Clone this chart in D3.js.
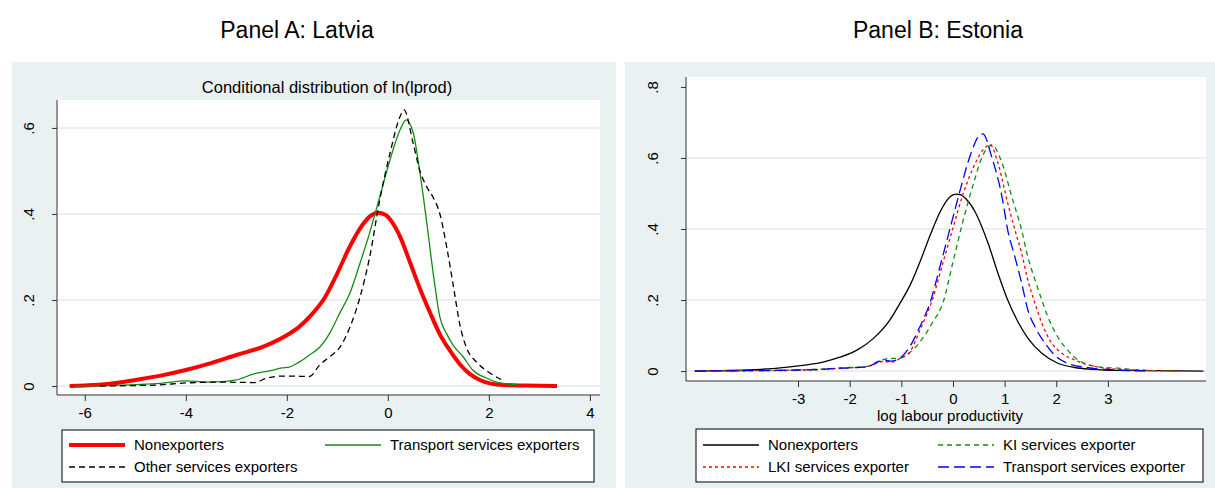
<!DOCTYPE html>
<html>
<head>
<meta charset="utf-8">
<script src="https://cdn.jsdelivr.net/npm/d3@7"></script>
<style>
  body { margin: 0; background: #fff; }
  text { font-family: "Liberation Sans", Arial, sans-serif; fill: #000; }
</style>
</head>
<body>
<div class="chart"></div>
<script>
const width = 1215;
const height = 488;

// Panel A: Latvia
const latNonX = [-6.3, -6, -5.5, -5, -4.5, -4, -3.5, -3, -2.5, -2, -1.75, -1.5, -1.25, -1, -0.75, -0.5, -0.35, -0.2, -0.05, 0.1, 0.25, 0.44, 0.63, 0.83, 1.03, 1.23, 1.43, 1.62, 1.82, 2.02, 2.3, 2.7, 3.35];
const latNonY = [0, 0.001, 0.005, 0.014, 0.024, 0.037, 0.053, 0.072, 0.09, 0.118, 0.138, 0.167, 0.205, 0.262, 0.325, 0.375, 0.395, 0.403, 0.398, 0.378, 0.345, 0.287, 0.228, 0.172, 0.12, 0.082, 0.05, 0.028, 0.014, 0.006, 0.002, 0.001, 0];
const latTrX = [-6.2, -5.5, -5, -4.5, -4, -3.6, -3.3, -3, -2.65, -2.3, -2.1, -1.95, -1.75, -1.55, -1.35, -1.15, -0.95, -0.75, -0.55, -0.36, -0.16, 0.04, 0.24, 0.36, 0.5, 0.63, 0.77, 0.9, 1.03, 1.17, 1.29, 1.49, 1.68, 1.96, 2.22, 2.58];
const latTrY = [0, 0.001, 0.003, 0.006, 0.012, 0.009, 0.01, 0.014, 0.028, 0.036, 0.042, 0.044, 0.056, 0.072, 0.09, 0.123, 0.17, 0.216, 0.286, 0.356, 0.44, 0.525, 0.595, 0.619, 0.59, 0.5, 0.38, 0.26, 0.16, 0.12, 0.095, 0.068, 0.037, 0.018, 0.007, 0.003];
const latOthX = [-5.7, -5, -4.6, -4, -3.3, -2.65, -2.4, -2.1, -1.9, -1.55, -1.35, -1.15, -0.95, -0.75, -0.55, -0.36, -0.16, 0.04, 0.24, 0.32, 0.5, 0.63, 0.77, 0.89, 1.03, 1.17, 1.3, 1.43, 1.56, 1.76, 2.02, 2.26];
const latOthY = [0, 0.001, 0.002, 0.007, 0.009, 0.008, 0.018, 0.023, 0.023, 0.022, 0.049, 0.068, 0.09, 0.137, 0.207, 0.3, 0.433, 0.54, 0.626, 0.642, 0.565, 0.502, 0.463, 0.44, 0.4, 0.32, 0.23, 0.14, 0.088, 0.055, 0.03, 0.014];
const latXTicks = [-6, -4, -2, 0, 2, 4];
const latYTicks = [0, 0.2, 0.4, 0.6];
const latYLabels = ["0", ".2", ".4", ".6"];

// Panel B: Estonia
const estNonX = [-5, -4.5, -4, -3.5, -3.15, -2.8, -2.5, -2.19, -1.86, -1.54, -1.22, -1.03, -0.83, -0.64, -0.44, -0.25, -0.06, 0.05, 0.14, 0.25, 0.43, 0.68, 0.87, 1.06, 1.26, 1.45, 1.72, 2.03, 2.36, 2.7, 3.2, 4, 4.85];
const estNonY = [0, 0.001, 0.003, 0.007, 0.012, 0.018, 0.026, 0.039, 0.059, 0.092, 0.144, 0.19, 0.242, 0.307, 0.383, 0.448, 0.49, 0.498, 0.497, 0.485, 0.448, 0.36, 0.276, 0.2, 0.138, 0.093, 0.05, 0.022, 0.01, 0.005, 0.002, 0.001, 0];
const estKiX = [-5, -4, -3, -2.5, -2, -1.67, -1.4, -1.25, -1.03, -0.9, -0.64, -0.39, -0.19, 0, 0.19, 0.39, 0.58, 0.75, 0.95, 1.14, 1.33, 1.45, 1.59, 1.72, 1.84, 2.03, 2.22, 2.42, 2.55, 2.9, 3.2, 3.6, 4.3];
const estKiY = [0, 0.001, 0.003, 0.006, 0.01, 0.013, 0.03, 0.035, 0.036, 0.045, 0.082, 0.138, 0.194, 0.307, 0.42, 0.524, 0.608, 0.637, 0.586, 0.49, 0.397, 0.321, 0.256, 0.2, 0.152, 0.096, 0.059, 0.031, 0.022, 0.01, 0.008, 0.003, 0];
const estLkiX = [-5, -4, -3, -2.5, -2, -1.67, -1.35, -1.2, -1.03, -0.83, -0.64, -0.39, -0.19, 0, 0.19, 0.39, 0.58, 0.72, 0.87, 1.06, 1.2, 1.33, 1.45, 1.59, 1.72, 1.91, 2.11, 2.36, 2.55, 2.84, 3.48, 4.4];
const estLkiY = [0, 0.001, 0.002, 0.005, 0.009, 0.012, 0.027, 0.025, 0.035, 0.055, 0.115, 0.205, 0.307, 0.403, 0.496, 0.572, 0.622, 0.637, 0.586, 0.473, 0.397, 0.332, 0.256, 0.19, 0.135, 0.079, 0.05, 0.031, 0.02, 0.011, 0.003, 0];
const estTrX = [-5, -4, -3, -2.5, -2.19, -1.67, -1.35, -1.2, -1.03, -0.83, -0.64, -0.44, -0.25, -0.06, 0.14, 0.33, 0.52, 0.58, 0.75, 0.95, 1.06, 1.2, 1.33, 1.45, 1.59, 1.78, 1.97, 2.17, 2.59, 3.17, 3.75];
const estTrY = [0, 0.001, 0.003, 0.005, 0.008, 0.012, 0.03, 0.028, 0.036, 0.07, 0.125, 0.194, 0.295, 0.4, 0.51, 0.605, 0.665, 0.668, 0.603, 0.49, 0.397, 0.321, 0.248, 0.172, 0.124, 0.079, 0.045, 0.025, 0.01, 0.003, 0];
const estXTicks = [-3, -2, -1, 0, 1, 2, 3];
const estYTicks = [0, 0.2, 0.4, 0.6, 0.8];
const estYLabels = ["0", ".2", ".4", ".6", ".8"];

const bgColor = "#eaf1f3";
const gridColor = "#e4ecef";

let svg = d3
  .select(".chart")
  .append("svg")
  .attr("width", width)
  .attr("height", height);

var zip = (xs, ys) => xs.map((x, i) => ({ x: x, y: ys[i] }));

var drawPanel = (p) => {
  let g = svg.append("g");
  // outer region
  g.append("rect")
    .attr("x", p.bg[0]).attr("y", p.bg[1])
    .attr("width", p.bg[2]).attr("height", p.bg[3])
    .attr("fill", bgColor);
  // panel heading
  g.append("text")
    .text(p.heading)
    .attr("x", p.headingX).attr("y", 38)
    .attr("text-anchor", "middle")
    .attr("font-size", 23);

  let xScale = d3.scaleLinear().domain(p.xDomain).range([p.left, p.right]);
  let yScale = d3.scaleLinear().domain(p.yDomain).range([p.bottom, p.top]);

  g.append("rect")
    .attr("x", p.left).attr("y", p.top)
    .attr("width", p.right - p.left).attr("height", p.bottom - p.top)
    .attr("fill", "white");

  // gridlines
  g.append("g")
    .selectAll("line")
    .data(p.gridTicks)
    .enter()
    .append("line")
    .attr("x1", p.left).attr("x2", p.right)
    .attr("y1", (d) => yScale(d)).attr("y2", (d) => yScale(d))
    .attr("stroke", gridColor)
    .attr("stroke-width", 1.5);

  // curves
  let line = d3.line()
    .x((d) => xScale(d.x))
    .y((d) => yScale(d.y))
    .curve(d3.curveMonotoneX);
  p.series.forEach((s) => {
    g.append("path")
      .datum(zip(s.x, s.y))
      .attr("d", line)
      .attr("fill", "none")
      .attr("stroke", s.color)
      .attr("stroke-width", s.width)
      .attr("stroke-dasharray", s.dash)
      .attr("stroke-linejoin", "round");
  });

  // axes (plain hyphen for negatives, like the original)
  let xAxis = d3.axisBottom(xScale).tickValues(p.xTicks).tickSize(6).tickPadding(6)
    .tickFormat((d) => String(d));
  let gx = g.append("g")
    .attr("transform", "translate(0," + p.bottom + ")")
    .call(xAxis);
  gx.select(".domain").attr("d", "M" + p.left + ",0H" + p.right).attr("stroke", "#333");
  gx.selectAll(".tick line").attr("stroke", "#333");
  gx.selectAll("text").attr("font-size", 15).attr("font-family", "Liberation Sans, Arial, sans-serif").attr("fill", "#000");

  let yAxis = d3.axisLeft(yScale).tickValues(p.yTicks).tickSize(5)
    .tickFormat((d, i) => p.yLabels[i]);
  let gy = g.append("g")
    .attr("transform", "translate(" + p.left + ",0)")
    .call(yAxis);
  gy.select(".domain").attr("d", "M0," + p.top + "V" + p.bottom).attr("stroke", "#333");
  gy.selectAll(".tick line").attr("stroke", "#333");
  gy.selectAll("text")
    .attr("font-size", 15)
    .attr("font-family", "Liberation Sans, Arial, sans-serif")
    .attr("fill", "#000")
    .attr("text-anchor", "middle")
    .attr("x", null).attr("dy", null)
    .attr("transform", "translate(" + -p.yLabelOff + ",0) rotate(-90)");

  if (p.title) {
    g.append("text").text(p.title)
      .attr("x", p.titleX).attr("y", 93)
      .attr("text-anchor", "middle").attr("font-size", 16.5);
  }
  if (p.xLabel) {
    g.append("text").text(p.xLabel)
      .attr("x", p.xLabelX).attr("y", 421)
      .attr("text-anchor", "middle").attr("font-size", 15);
  }

  // legend
  let lg = g.append("g");
  lg.append("rect")
    .attr("x", p.legend[0]).attr("y", p.legend[1])
    .attr("width", p.legend[2]).attr("height", p.legend[3])
    .attr("fill", "white").attr("stroke", "#000").attr("stroke-width", 1);
  p.series.forEach((s) => {
    let lx = p.legendCols[s.col];
    let ly = p.legendRows[s.row];
    lg.append("line")
      .attr("x1", lx).attr("x2", lx + 56)
      .attr("y1", ly).attr("y2", ly)
      .attr("stroke", s.color)
      .attr("stroke-width", s.width)
      .attr("stroke-dasharray", s.dash);
    lg.append("text").text(s.name)
      .attr("x", lx + 65).attr("y", ly + 5)
      .attr("font-size", 15);
  });
};

drawPanel({
  heading: "Panel A: Latvia",
  headingX: 297,
  bg: [12, 62, 604, 426],
  left: 57, right: 600, top: 100, bottom: 395,
  xDomain: [-6.55, 4.2], yDomain: [-0.021, 0.665],
  xTicks: latXTicks, yTicks: latYTicks, yLabels: latYLabels, gridTicks: latYTicks,
  yLabelOff: 23,
  title: "Conditional distribution of ln(lprod)", titleX: 327,
  legend: [62, 430, 532, 52],
  legendCols: [69, 325], legendRows: [445, 467],
  series: [
    { name: "Nonexporters", x: latNonX, y: latNonY, color: "#ff0000", width: 4, dash: null, col: 0, row: 0 },
    { name: "Transport services exporters", x: latTrX, y: latTrY, color: "#138c13", width: 1.3, dash: null, col: 1, row: 0 },
    { name: "Other services exporters", x: latOthX, y: latOthY, color: "#000", width: 1.3, dash: "6,4", col: 0, row: 1 },
  ],
});

drawPanel({
  heading: "Panel B: Estonia",
  headingX: 938,
  bg: [625, 62, 590, 426],
  left: 686, right: 1206, top: 77, bottom: 381,
  xDomain: [-5.17, 4.9], yDomain: [-0.028, 0.828],
  xTicks: estXTicks, yTicks: estYTicks, yLabels: estYLabels, gridTicks: [0, 0.2, 0.4, 0.6],
  yLabelOff: 28,
  xLabel: "log labour productivity", xLabelX: 950,
  legend: [696, 429, 507, 53],
  legendCols: [703, 938], legendRows: [445, 467],
  series: [
    { name: "Nonexporters", x: estNonX, y: estNonY, color: "#000", width: 1.3, dash: null, col: 0, row: 0 },
    { name: "KI services exporter", x: estKiX, y: estKiY, color: "#138c13", width: 1.3, dash: "5,4", col: 1, row: 0 },
    { name: "LKI services exporter", x: estLkiX, y: estLkiY, color: "#ff0000", width: 1.3, dash: "3,3", col: 0, row: 1 },
    { name: "Transport services exporter", x: estTrX, y: estTrY, color: "#0000ff", width: 1.3, dash: "11,5", col: 1, row: 1 },
  ],
});
</script>
</body>
</html>
